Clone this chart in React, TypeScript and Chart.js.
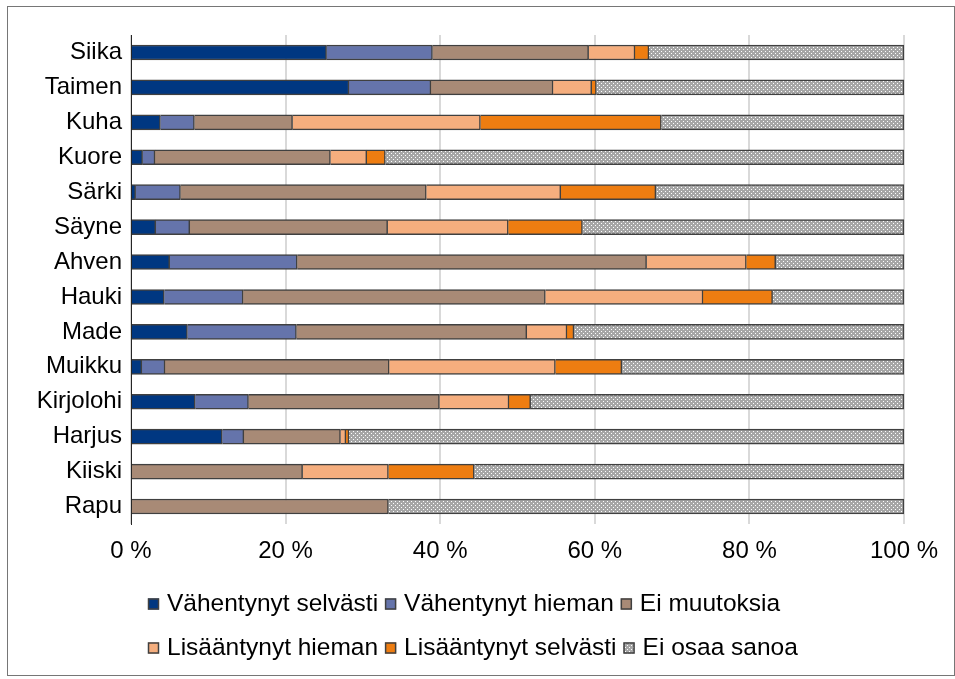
import React, { useEffect, useRef } from "react";
import { Chart, registerables } from "chart.js";

Chart.register(...registerables);

const categories = ["Siika", "Taimen", "Kuha", "Kuore", "Särki", "Säyne", "Ahven", "Hauki", "Made", "Muikku", "Kirjolohi", "Harjus", "Kiiski", "Rapu"];
const seriesNames = ["Vähentynyt selvästi", "Vähentynyt hieman", "Ei muutoksia", "Lisääntynyt hieman", "Lisääntynyt selvästi", "Ei osaa sanoa"];
const vahentynytSelvasti = [25.3, 28.2, 3.8, 1.5, 0.6, 3.2, 5.0, 4.3, 7.3, 1.4, 8.3, 11.8, 0, 0];
const vahentynytHieman = [13.7, 10.6, 4.4, 1.6, 5.8, 4.4, 16.5, 10.2, 14.1, 3.0, 6.9, 2.8, 0, 0];
const eiMuutoksia = [20.2, 15.8, 12.7, 22.7, 31.8, 25.6, 45.2, 39.1, 29.8, 29.0, 24.7, 12.5, 22.2, 33.3];
const lisaantynytHieman = [6.0, 5.0, 24.3, 4.7, 17.4, 15.6, 12.9, 20.4, 5.2, 21.5, 9.0, 0.7, 11.1, 0];
const lisaantynytSelvasti = [1.8, 0.6, 23.4, 2.4, 12.3, 9.6, 3.8, 9.0, 0.9, 8.6, 2.8, 0.4, 11.1, 0];
const eiOsaaSanoa = [33.0, 39.8, 31.4, 67.1, 32.1, 41.6, 16.6, 17.0, 42.7, 36.5, 48.3, 71.8, 55.6, 66.7];
const xTickValues = [0, 20, 40, 60, 80, 100];

const FONT = '"Liberation Sans", Arial, sans-serif';
const BORDER = "#404040";

function makePattern(): CanvasPattern | string {
  const c = document.createElement("canvas");
  c.width = 4;
  c.height = 4;
  const g = c.getContext("2d");
  if (!g) return "#b0b0b0";
  g.fillStyle = "#a6a6a6";
  g.fillRect(0, 0, 4, 4);
  g.fillStyle = "#ffffff";
  g.fillRect(1, 0, 1, 1);
  g.fillRect(3, 2, 1, 1);
  const p = g.createPattern(c, "repeat");
  return p || "#b0b0b0";
}

export default function App() {
  const ref = useRef<HTMLCanvasElement | null>(null);

  useEffect(() => {
    if (!ref.current) return;
    const pattern = makePattern();
    const colors: (string | CanvasPattern)[] = ["#003781", "#6574ab", "#a88a76", "#f5ae7e", "#ee7d11", pattern];
    const values = [vahentynytSelvasti, vahentynytHieman, eiMuutoksia, lisaantynytHieman, lisaantynytSelvasti, eiOsaaSanoa];

    const legendPlugin = {
      id: "customLegend",
      afterDraw(chart: any) {
        const ctx = chart.ctx as CanvasRenderingContext2D;
        ctx.save();
        ctx.font = `24.5px ${FONT}`;
        ctx.textBaseline = "middle";
        ctx.textAlign = "left";
        const rows = [[0, 1, 2], [3, 4, 5]];
        const rowY = [597, 641];
        const startX = 140;
        const box = 11;
        const boxGap = 8;
        const itemGap = 7;
        rows.forEach((row, ri) => {
          let x = startX;
          const y = rowY[ri];
          row.forEach((i) => {
            ctx.fillStyle = colors[i] as any;
            ctx.fillRect(x, y - box / 2, box, box);
            ctx.strokeStyle = BORDER;
            ctx.lineWidth = 1.5;
            ctx.strokeRect(x + 0.5, y - box / 2 + 0.5, box - 1, box - 1);
            x += box + boxGap;
            ctx.fillStyle = "#000";
            ctx.fillText(seriesNames[i], x, y);
            x += ctx.measureText(seriesNames[i]).width + itemGap;
          });
        });
        ctx.restore();
      },
    };

    const chart = new Chart(ref.current, {
      type: "bar",
      data: {
        labels: categories,
        datasets: seriesNames.map((name, i) => ({
          label: name,
          data: values[i],
          backgroundColor: colors[i] as any,
          borderColor: BORDER,
          borderWidth: 1.5,
          barThickness: 15,
        })),
      },
      options: {
        indexAxis: "y",
        animation: false,
        responsive: false,
        devicePixelRatio: 1,
        events: [],
        layout: { padding: { left: 0, right: 50, top: 28, bottom: 111 } },
        plugins: {
          legend: { display: false },
          tooltip: { enabled: false },
        },
        scales: {
          x: {
            stacked: true,
            min: 0,
            max: 100,
            afterBuildTicks: (scale: any) => {
              scale.ticks = xTickValues.map((v) => ({ value: v }));
            },
            afterFit: (scale: any) => {
              scale.height = 40;
            },
            grid: { color: "#d9d9d9", lineWidth: 2, drawTicks: false },
            border: { display: false },
            ticks: {
              padding: 13,
              color: "#000",
              font: { family: FONT, size: 24 },
              callback: (v: any) => `${v} %`,
            },
          },
          y: {
            stacked: true,
            afterFit: (scale: any) => {
              scale.width = 123;
            },
            grid: { display: false, drawTicks: false },
            border: { display: true, color: "#262626", width: 1 },
            ticks: {
              padding: 9,
              color: "#000",
              font: { family: FONT, size: 24 },
            },
          },
        },
      },
      plugins: [legendPlugin],
    } as any);

    return () => chart.destroy();
  }, []);

  return (
    <div
      style={{
        position: "absolute",
        left: 7,
        top: 6,
        width: 948,
        height: 670,
        border: "1px solid #767676",
        boxSizing: "border-box",
        background: "#fff",
      }}
    >
      <canvas ref={ref} width={946} height={668} style={{ display: "block" }} />
    </div>
  );
}
